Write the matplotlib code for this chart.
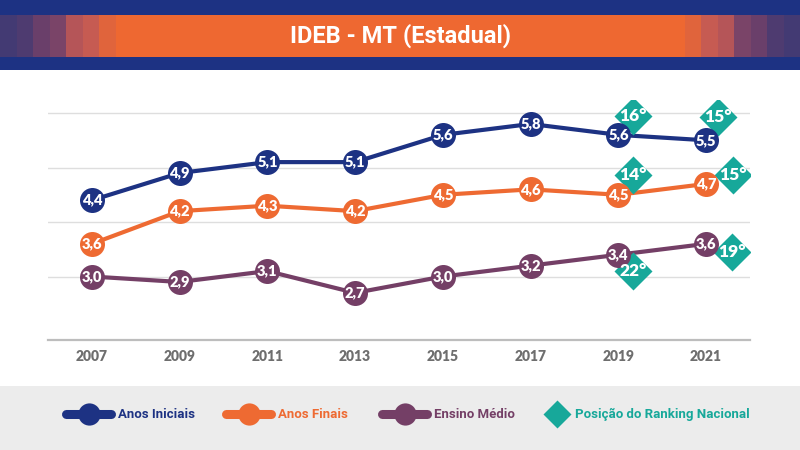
import matplotlib
matplotlib.use("Agg")
from matplotlib import pyplot as plt
from matplotlib.transforms import ScaledTranslation
from matplotlib.patches import Rectangle

plt.rcParams['font.family'] = ['Lato', 'DejaVu Sans']

years = [2007, 2009, 2011, 2013, 2015, 2017, 2019, 2021]
anos_iniciais = [4.4, 4.9, 5.1, 5.1, 5.6, 5.8, 5.6, 5.5]
anos_finais = [3.6, 4.2, 4.3, 4.2, 4.5, 4.6, 4.5, 4.7]
ensino_medio = [3.0, 2.9, 3.1, 2.7, 3.0, 3.2, 3.4, 3.6]

rank_years = [2019, 2021]
rank_iniciais = [16, 15]
rank_finais = [14, 15]
rank_medio = [22, 19]

navy = '#1d3283'
orange = '#ee6a32'
purple = '#743f66'
teal = '#17a89a'
narrow = ['Roboto', 'DejaVu Sans']

fig = plt.figure(figsize=(8, 4.5), dpi=100)

# background / header / legend strip in pixel coordinates
bg = fig.add_axes([0, 0, 1, 1], zorder=0)
bg.set_xlim(0, 800)
bg.set_ylim(450, 0)
bg.axis('off')

bg.add_patch(Rectangle((0, 0), 800, 70, color=navy, lw=0))
bg.add_patch(Rectangle((0, 15), 800, 42, color='#ee6831', lw=0))
stripes = ['#433a73', '#4e3b70', '#6a3f6a', '#7a4468', '#b55558', '#c65b52', '#e0643c']
for i, c in enumerate(stripes):
    bg.add_patch(Rectangle((i * 16.5, 15), 16.5, 42, color=c, lw=0))
    bg.add_patch(Rectangle((800 - (i + 1) * 16.5, 15), 16.5, 42, color=c, lw=0))
bg.text(400, 36, 'IDEB - MT (Estadual)', color='white', fontsize=17, fontweight='bold',
        ha='center', va='center', family=narrow)

bg.add_patch(Rectangle((0, 386), 800, 64, color='#ececec', lw=0))

ly = 414
legend_items = [(62, 115, navy, 'Anos Iniciais'),
                (222, 275, orange, 'Anos Finais'),
                (378, 431, purple, 'Ensino Médio')]
for x0, x1, c, lab in legend_items:
    bg.plot([x0 + 4, x1 - 4], [ly, ly], color=c, lw=6.5, solid_capstyle='round')
    bg.plot([(x0 + x1) / 2], [ly], marker='o', ms=16, color=c, mec='none')
    bg.text(x1 + 3, ly, lab, color=c, fontsize=9.5, fontweight='bold', va='center', ha='left',
            family=narrow)
bg.plot([557], [ly], marker='D', ms=14.5, color=teal, mec='none')
bg.text(575, ly, 'Posição do Ranking Nacional', color=teal, fontsize=9.5, fontweight='bold',
        va='center', ha='left', family=narrow)

# main chart
ax = fig.add_axes([48 / 800, 110 / 450, 702 / 800, 240 / 450], zorder=1)
ax.patch.set_alpha(0)
ax.set_xlim(2006, 2022)
ax.set_ylim(1.835, 6.24)
for v in [3, 4, 5, 6]:
    ax.axhline(v, color='#dedede', lw=1, zorder=1)
for s in ['top', 'right', 'left']:
    ax.spines[s].set_visible(False)
ax.spines['bottom'].set_color('#bdbdbd')
ax.spines['bottom'].set_linewidth(1.6)
ax.set_yticks([])
ax.set_xticks(years)
ax.set_xticklabels([str(y) for y in years], fontsize=10, fontweight='heavy', color='#6e6e6e')
ax.tick_params(axis='x', length=0, pad=7)

series = [(anos_iniciais, navy), (anos_finais, orange), (ensino_medio, purple)]
for vals, c in series:
    ax.plot(years, vals, color=c, lw=3, zorder=2, solid_capstyle='round')
    ax.plot(years, vals, 'o', color=c, ms=18, mec='none', zorder=4)
    for x, v in zip(years, vals):
        ax.text(x, v, f'{v:.1f}'.replace('.', ','), color='white', fontsize=10.5,
                fontweight='heavy', ha='center', va='center', zorder=5)

# ranking diamonds, offsets in pixels from the data point
rank_sets = [(anos_iniciais, rank_iniciais, [(15, 19), (12, 23)]),
             (anos_finais, rank_finais, [(15, 20), (27, 9)]),
             (ensino_medio, rank_medio, [(15, -16), (26, -8)])]
for vals, ranks, offs in rank_sets:
    for yr, r, (dx, dy) in zip(rank_years, ranks, offs):
        v = vals[years.index(yr)]
        tr = ax.transData + ScaledTranslation(dx / 100, dy / 100, fig.dpi_scale_trans)
        ax.plot([yr], [v], marker='D', ms=19, color=teal, mec='none', transform=tr, zorder=3)
        ax.text(yr, v, f'{r}°', color='white', fontsize=12.5, fontweight='heavy',
                ha='center', va='center', transform=tr, zorder=5)

fig.savefig('out.png', dpi=100)
